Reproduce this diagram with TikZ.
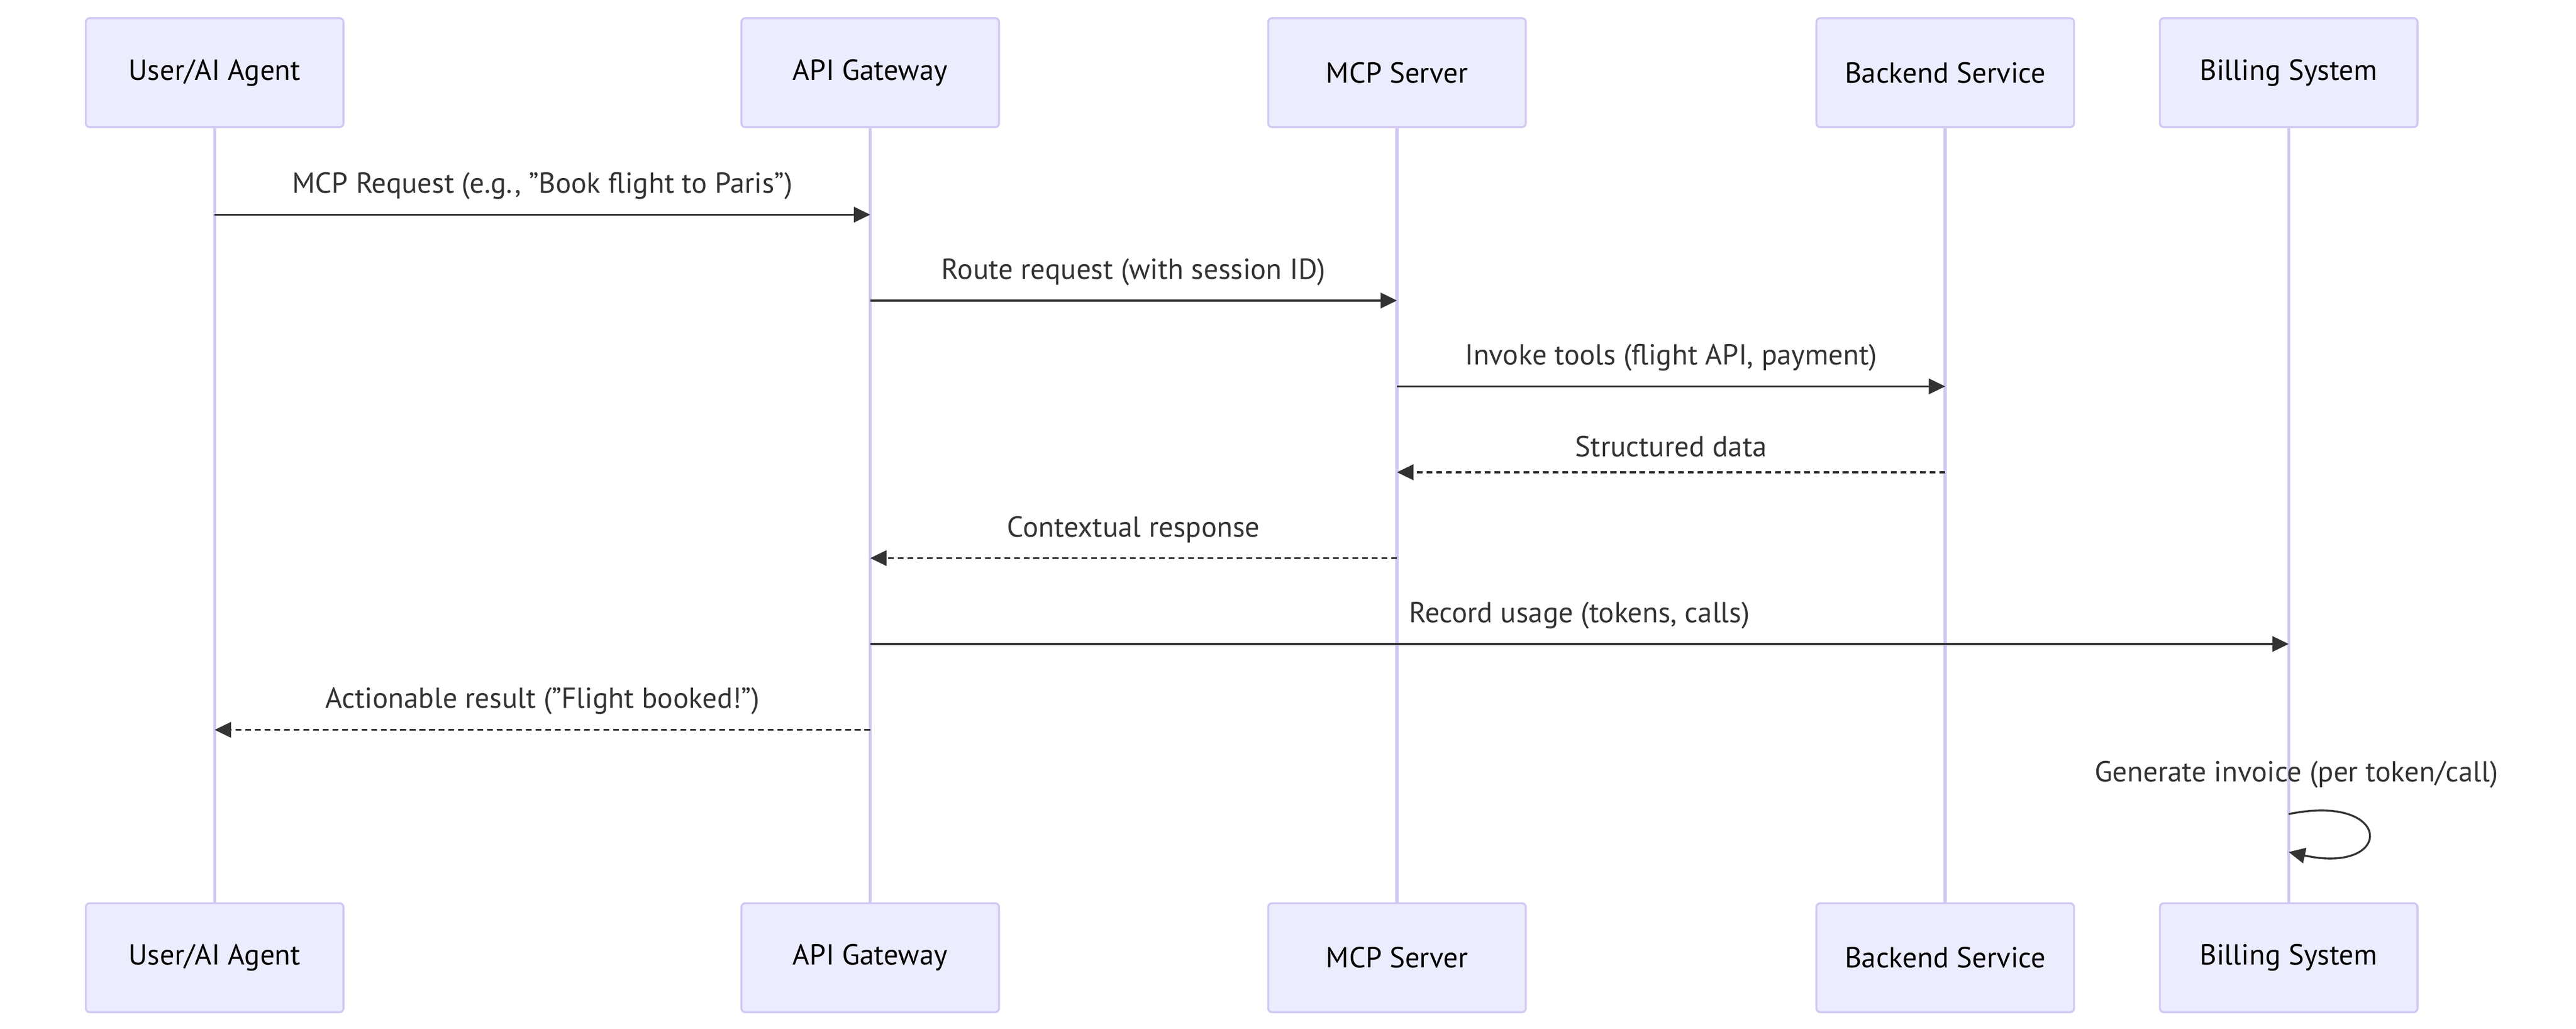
\documentclass[tikz,border=0pt]{standalone}
\usepackage{fontspec}
\setmainfont{PT Sans}
\usetikzlibrary{arrows.meta,positioning}
\definecolor{boxfill}{HTML}{ECECFF}
\definecolor{boxline}{HTML}{D2C8F2}
\definecolor{ink}{HTML}{333333}
\tikzset{
    actor/.style={draw=boxline, fill=boxfill, line width=1pt, rounded corners=2pt,
        minimum width=156*0.03cm, minimum height=66*0.03cm, inner sep=0pt,
        font=\fontsize{15}{18}\selectfont, text=black},
    life/.style={draw=boxline, line width=1.6pt},
    msg/.style={draw=ink, line width=1pt, -{Triangle[length=8.5pt,width=8pt]}},
    reply/.style={msg, dash pattern=on 3pt off 2pt},
    lbl/.style={font=\fontsize{15}{18}\selectfont, text=ink, above=4pt}
}
\begin{document}
\begin{tikzpicture}[x=0.03cm, y=-0.03cm]
    \useasboundingbox (0,0) rectangle (1560,623);

    % participants, top and bottom
    \node[actor] (user) at (130,44) {User/AI Agent};
    \node[actor] (gw) at (527,44) {API Gateway};
    \node[actor] (mcp) at (846,44) {MCP Server};
    \node[actor] (backend) at (1178,44) {Backend Service};
    \node[actor] (billing) at (1386,44) {Billing System};

    \node[actor] (user2) at (130,580) {User/AI Agent};
    \node[actor] (gw2) at (527,580) {API Gateway};
    \node[actor] (mcp2) at (846,580) {MCP Server};
    \node[actor] (backend2) at (1178,580) {Backend Service};
    \node[actor] (billing2) at (1386,580) {Billing System};

    % lifelines
    \foreach \p in {user,gw,mcp,backend,billing}
        \draw[life] (\p.south) -- (\p2.north);

    % message end points
    \coordinate (user1) at (130,130);
    \coordinate (gw1) at (527,130);
    \coordinate (gwR) at (527,182);
    \coordinate (mcpR) at (846,182);
    \coordinate (mcpT) at (846,234);
    \coordinate (backT) at (1178,234);
    \coordinate (backD) at (1178,286);
    \coordinate (mcpD) at (846,286);
    \coordinate (mcpC) at (846,338);
    \coordinate (gwC) at (527,338);
    \coordinate (gwU) at (527,390);
    \coordinate (billU) at (1386,390);
    \coordinate (gwA) at (527,442);
    \coordinate (userA) at (130,442);
    \coordinate (billG) at (1386,493);
    \coordinate (billG2) at (1386,516);

    \draw[msg] (user1) -- node[lbl] {MCP Request (e.g., "Book flight to Paris")} (gw1);
    \draw[msg] (gwR) -- node[lbl] {Route request (with session ID)} (mcpR);
    \draw[msg] (mcpT) -- node[lbl] {Invoke tools (flight API, payment)} (backT);
    \draw[reply] (backD) -- node[lbl] {Structured data} (mcpD);
    \draw[reply] (mcpC) -- node[lbl] {Contextual response} (gwC);
    \draw[msg] (gwU) -- node[lbl] {Record usage (tokens, calls)} (billU);
    \draw[reply] (gwA) -- node[lbl] {Actionable result ("Flight booked!")} (userA);

    \draw[msg] (billG) .. controls (1450,480) and (1450,530) .. (billG2);
    \node[lbl, above=10pt of billG, xshift=4pt] (gen) {Generate invoice (per token/call)};

\end{tikzpicture}
\end{document}
